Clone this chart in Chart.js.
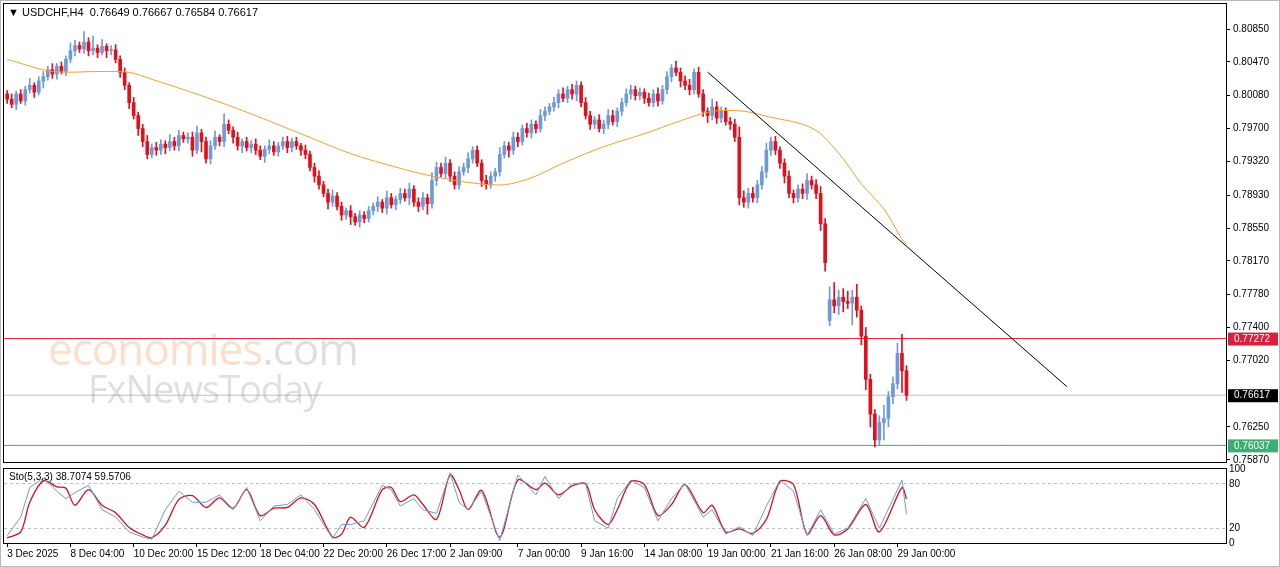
<!DOCTYPE html>
<html><head><meta charset="utf-8">
<script src="https://cdn.jsdelivr.net/npm/chart.js@4.4.1/dist/chart.umd.min.js"></script>
<style>
html,body{margin:0;padding:0;background:#fff;width:1280px;height:567px;overflow:hidden;font-family:"Liberation Sans",Arial,sans-serif}
#frame{position:absolute;left:0;top:0;width:1278px;height:565px;border:1px solid #b8b8b8}
canvas{position:absolute;left:0}
#hdr{position:absolute;left:8px;top:6px;font-size:11px;color:#000}
.wm{position:absolute;font-family:"Open Sans",sans-serif;pointer-events:none}
</style></head><body>
<div id="frame"></div>
<canvas id="c1" style="top:-5px" width="1280" height="476"></canvas>
<canvas id="c2" style="top:460px" width="1280" height="107"></canvas>
<div id="hdr">&#9660; USDCHF,H4&nbsp; 0.76649 0.76667 0.76584 0.76617</div>
<div class="wm" style="left:48px;top:318px;font-size:44px;color:rgba(245,160,100,0.35);letter-spacing:-1px">economies<span style="color:rgba(150,150,150,0.3)">.com</span></div>
<div class="wm" style="left:88px;top:362px;font-size:38px;color:rgba(150,150,150,0.3);letter-spacing:-1px">FxNewsToday</div>
<script>
const closes = [
0.8004,0.7998,0.8010,0.8002,0.8015,0.8020,0.8012,0.8025,0.8030,0.8038,0.8033,0.8042,0.8036,0.8050,0.8060,0.8066,0.8062,0.8070,0.8060,0.8063,
0.8058,0.8065,0.8060,0.8061,0.8050,0.8035,0.8020,0.8000,0.7985,0.7970,0.7955,0.7940,0.7948,0.7945,0.7952,0.7948,0.7955,0.7950,0.7962,0.7958,
0.7960,0.7945,0.7965,0.7955,0.7935,0.7950,0.7960,0.7955,0.7975,0.7968,0.7960,0.7950,0.7955,0.7948,0.7952,0.7945,0.7938,0.7946,0.7950,0.7943,
0.7950,0.7955,0.7948,0.7955,0.7950,0.7945,0.7940,0.7925,0.7915,0.7905,0.7895,0.7885,0.7892,0.7880,0.7870,0.7875,0.7868,0.7862,0.7870,0.7866,
0.7875,0.7880,0.7885,0.7878,0.7890,0.7882,0.7888,0.7895,0.7890,0.7900,0.7885,0.7880,0.7890,0.7883,0.7910,0.7925,0.7918,0.7930,0.7915,0.7905,
0.7920,0.7925,0.7935,0.7945,0.7930,0.7910,0.7905,0.7915,0.7920,0.7940,0.7950,0.7945,0.7960,0.7955,0.7970,0.7965,0.7975,0.7970,0.7985,0.7990,
0.7995,0.8000,0.8010,0.8005,0.8015,0.8010,0.8020,0.8000,0.7985,0.7975,0.7980,0.7970,0.7975,0.7985,0.7978,0.7990,0.8000,0.8010,0.8015,0.8008,
0.8012,0.8005,0.8000,0.8010,0.8002,0.8015,0.8030,0.8040,0.8035,0.8025,0.8020,0.8015,0.8035,0.8010,0.7990,0.7985,0.7995,0.7982,0.7990,0.7978,
0.7975,0.7960,0.7890,0.7885,0.7895,0.7890,0.7905,0.7920,0.7945,0.7955,0.7945,0.7930,0.7915,0.7895,0.7890,0.7900,0.7895,0.7910,0.7905,0.7895,
0.7860,0.7815,0.7772,0.7765,0.7775,0.7770,0.7768,0.7775,0.7760,0.7730,0.7680,0.7640,0.7610,0.7630,0.7635,0.7660,0.7675,0.7710,0.7690,0.76617];
const firstOpen = 0.8010;
const gapOpens = [[182, 0.7748]];
const hiW = [
4,6,3,5,4,8,3,5,6,4,7,3,5,4,9,6,4,12,5,14, 4,8,3,5,6,4,5,3,6,4,5,7,4,6,5,4,8,5,6,4,
5,6,8,4,5,6,7,3,12,5,4,6,3,5,4,6,5,4,7,5, 4,5,6,4,5,3,6,4,5,6,4,5,7,4,5,3,6,4,5,4,
5,4,6,3,8,5,4,6,5,7,4,5,6,4,9,6,5,7,4,5, 6,5,7,4,5,4,6,5,4,8,5,4,6,5,4,6,5,4,7,5,
4,6,5,7,4,6,5,4,6,5,4,6,5,7,6,4,5,6,5,4, 5,4,6,5,7,5,6,4,8,5,6,7,4,6,5,4,9,6,5,4,
5,6,12,8,6,7,5,6,8,5,6,4,5,6,4,5,6,8,5,6, 8,6,15,20,8,10,12,8,15,5,10,6,5,8,15,6,8,12,22,6];
const loW = [
5,4,6,3,5,4,6,3,8,4,5,6,3,5,4,6,4,5,6,5, 6,3,8,5,4,6,5,7,4,8,6,5,4,6,5,7,4,5,6,4,
5,7,4,12,5,6,4,5,6,4,7,5,8,4,6,5,4,7,5,4, 5,4,6,5,4,6,5,4,7,5,4,8,5,4,6,5,9,4,6,5,
4,5,6,5,7,4,6,5,4,8,5,6,4,12,5,6,4,5,6,5, 5,4,6,5,4,7,5,4,6,5,4,8,5,6,4,5,6,5,4,6,
4,5,6,4,5,6,8,5,4,6,5,4,6,5,4,6,5,4,6,5, 5,6,4,5,6,4,5,6,4,7,5,6,5,4,6,8,5,6,5,4,
6,5,8,6,7,5,6,5,7,6,5,6,8,5,6,5,6,7,5,6, 8,10,6,8,10,12,6,25,8,10,12,15,8,6,20,10,8,6,25,6];
const maBars = [0,10,21,27,32,43,54,65,76,87,94,103,110,116,123,132,141,149,156,163,169,176,180,185,189,194,198,199];
const maVals = [0.8050,0.8036,0.8036,0.8035,0.8027,0.8008,0.7987,0.7964,0.7941,0.7924,0.7915,0.7907,0.7905,0.7913,0.7930,0.7949,0.7964,0.7979,0.7990,0.7990,0.7983,0.7975,0.7964,0.7935,0.7906,0.7877,0.7842,0.7836];
const trendBars = [155, 234.5];
const trendVals = [0.80352, 0.76716];
const priceTicks = [0.80850,0.80470,0.80080,0.79700,0.79320,0.78930,0.78550,0.78170,0.77780,0.77400,0.77020,0.76250,0.75870];
const levels = [{v:0.77272,c:'#d8203c',bg:'#d8203c'},{v:0.76617,c:'#c0c0c0',bg:'#000'},{v:0.76037,c:'#3cae72',bg:'#3cae72'}];
const stBars = [0,3,5,8,11,13,15,18,21,24,27,30,32,35,38,41,44,47,50,53,56,59,62,65,68,72,74,76,79,83,85,87,90,92,95,98,100,102,105,109,113,117,119,122,125,128,130,133,135,138,141,144,147,150,154,156,159,162,165,168,171,174,177,180,183,186,190,193,198,199];
const stD = [7,15,55,84,76,74,51,72,51,41,21,11,7,24,59,64,48,61,47,72,37,47,48,61,52,8,12,35,21,72,75,56,65,52,32,92,72,45,71,8,85,72,81,65,77,80,45,25,45,83,79,37,52,79,41,51,15,19,13,32,83,79,12,37,11,19,52,15,75,59.57];
const stK = [10,35,75,88,70,60,68,78,45,35,15,8,5,45,70,55,55,65,45,75,30,50,52,65,45,6,25,25,30,78,72,50,60,45,40,95,55,45,70,3,92,65,90,60,80,80,30,20,60,85,75,30,60,80,35,45,12,22,10,50,85,70,10,45,12,20,60,20,85,38.71];
const dateBars = [0,14,28,42,56,70,84,98,113,127,141,155,169,183,197];
const dateLabels = ['3 Dec 2025','8 Dec 04:00','10 Dec 20:00','15 Dec 12:00','18 Dec 04:00','22 Dec 20:00','26 Dec 17:00','2 Jan 09:00','7 Jan 00:00','9 Jan 16:00','14 Jan 08:00','19 Jan 00:00','21 Jan 16:00','26 Jan 08:00','29 Jan 00:00'];
const stLevels = [0,20,80,100];

const P = 0.0001;
const opens = closes.map((c,i)=> i===0 ? firstOpen : closes[i-1]);
gapOpens.forEach(([i,v])=>opens[i]=v);
const bodies=[], wicks=[], cols=[];
closes.forEach((c,i)=>{
  const o=opens[i];
  bodies.push({x:i,y:[o,c===o?c+0.00002:c]});
  wicks.push({x:i,y:[Math.min(o,c)-loW[i]*P,Math.max(o,c)+hiW[i]*P]});
  cols.push(c>=o?'#6f9ad8':'#e3101c');
});
const XMIN=-0.7, XMAX=269.7;
const font={family:'"Liberation Sans", Arial, sans-serif',size:10};
const frame={id:'frame',afterDraw(ch){const a=ch.chartArea,x=ch.ctx;x.save();x.strokeStyle='#000';x.lineWidth=1;x.strokeRect(Math.round(a.left)-0.5,Math.round(a.top)-0.5,Math.round(a.right-a.left)+1,Math.round(a.bottom-a.top)+1);x.restore();}};
const tags={id:'tags',afterDraw(ch){const y=ch.scales.y,x=ch.ctx;x.save();x.font='10px "Liberation Sans", Arial';levels.forEach(l=>{const py=y.getPixelForValue(l.v);x.fillStyle=l.bg;x.fillRect(ch.chartArea.right+2,py-6,50,13);x.fillStyle='#fff';x.textBaseline='middle';x.fillText(l.v.toFixed(5),ch.chartArea.right+8,py+0.5);});x.restore();}};
const lvlSets = levels.map(l=>({type:'line',data:[{x:XMIN,y:l.v},{x:XMAX,y:l.v}],borderColor:l.c,borderWidth:1,pointRadius:0,order:5}));
new Chart(document.getElementById('c1'),{
  data:{datasets:[
    ...lvlSets,
    {type:'bar',data:wicks,backgroundColor:cols,barThickness:1,grouped:false,order:3},
    {type:'bar',data:bodies,backgroundColor:cols,barThickness:3,grouped:false,order:2},
    {type:'line',data:maBars.map((b,i)=>({x:b,y:maVals[i]})),borderColor:'#f0a030',borderWidth:1,pointRadius:0,tension:0.3,order:1},
    {type:'line',data:trendBars.map((b,i)=>({x:b,y:trendVals[i]})),borderColor:'#000',borderWidth:1,pointRadius:0,order:0}
  ]},
  options:{responsive:false,animation:false,layout:{padding:{left:4,top:0,bottom:0,right:0}},
    plugins:{legend:{display:false},tooltip:{enabled:false}},
    scales:{
      x:{type:'linear',min:XMIN,max:XMAX,offset:false,display:false},
      y:{type:'linear',position:'right',min:0.75845,max:0.81140,
        afterBuildTicks:s=>{s.ticks=priceTicks.map(v=>({value:v}));},
        afterFit:s=>{s.width=54;},
        grid:{drawOnChartArea:false,drawTicks:true,tickLength:4,color:'#000'},border:{display:false},
        ticks:{font,color:'#000',padding:3,callback:v=>v.toFixed(5)}}
    }},
  plugins:[frame,tags]
});
new Chart(document.getElementById('c2'),{
  data:{datasets:[
    {type:'line',data:stBars.map((b,i)=>({x:b,y:stK[i]})),borderColor:'#6f9ad8',borderWidth:1,pointRadius:0},
    {type:'line',data:stBars.map((b,i)=>({x:b,y:stD[i]})),borderColor:'#d0101c',borderWidth:1.3,pointRadius:0,tension:0.3}
  ]},
  options:{responsive:false,animation:false,layout:{padding:{left:4,top:0,right:0,bottom:0}},
    plugins:{legend:{display:false},tooltip:{enabled:false},
      title:{display:false}},
    scales:{
      x:{type:'linear',min:XMIN,max:XMAX,offset:false,
        afterBuildTicks:s=>{s.ticks=dateBars.map(v=>({value:v}));},
        afterFit:s=>{s.height=24;},
        grid:{drawOnChartArea:false,drawTicks:true,tickLength:4,color:'#000'},border:{display:false},
        ticks:{font,color:'#000',align:'start',maxRotation:0,autoSkip:false,padding:1,callback:(v,i)=>dateLabels[i]}},
      y:{type:'linear',position:'right',min:0,max:100,
        afterBuildTicks:s=>{s.ticks=stLevels.map(v=>({value:v}));},
        afterFit:s=>{s.width=54;},
        grid:{drawTicks:false,color:c=>(c.tick&&(c.tick.value===20||c.tick.value===80))?'#c0c0c0':'transparent'},border:{display:false,dash:[3,3]},
        ticks:{font,color:'#000',padding:3}}
    }},
  plugins:[frame,{id:'lbl',afterDraw(ch){const x=ch.ctx;x.save();x.font='10px "Liberation Sans", Arial';x.fillStyle='#000';x.fillText('Sto(5,3,3) 38.7074 59.5706',9,20);x.restore();}}]
});
</script></body></html>
